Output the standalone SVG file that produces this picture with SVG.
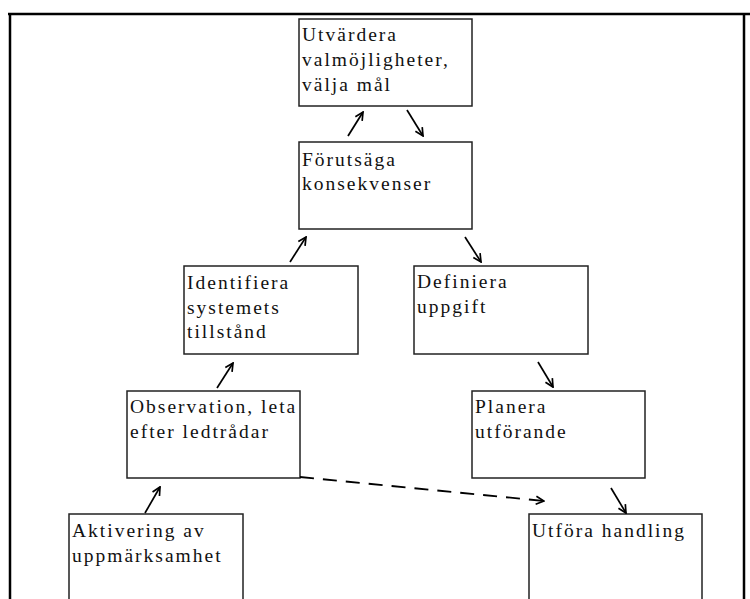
<svg xmlns="http://www.w3.org/2000/svg" width="750" height="599" viewBox="0 0 750 599">
<defs>
<style>
.box{fill:#fff;stroke:#222;stroke-width:1.5}
.t{font-family:"Liberation Serif","Times New Roman",serif;font-size:19.5px;letter-spacing:2px;fill:#111}
.c{stroke:#000;stroke-width:1.7;fill:none}
.d{stroke:#000;stroke-width:1.8;fill:none;stroke-dasharray:14,9}
</style>
<marker id="ah" viewBox="0 0 10 10" refX="9" refY="5" markerWidth="10" markerHeight="10" markerUnits="userSpaceOnUse" orient="auto">
<path d="M1,1 L9,5 L1,9" fill="none" stroke="#000" stroke-width="1.7"/>
</marker>
</defs>
<rect width="750" height="599" fill="#fff"/>
<g id="frame">
<path d="M8,14 H750" stroke="#000" stroke-width="2.5" fill="none"/>
<path d="M10,14 V599" stroke="#000" stroke-width="2.5" fill="none"/>
<path d="M744,14 V599" stroke="#000" stroke-width="2.5" fill="none"/>
</g>
<g id="n-utvardera">
<rect class="box" x="299" y="19" width="173" height="87"/>
<text class="t" x="302" y="41">Utvärdera</text>
<text class="t" x="302" y="66">valmöjligheter,</text>
<text class="t" x="302" y="91">välja mål</text>
</g>
<g id="n-forutsaga">
<rect class="box" x="299" y="142" width="173" height="87"/>
<text class="t" x="302" y="166">Förutsäga</text>
<text class="t" x="302" y="190">konsekvenser</text>
</g>
<g id="n-identifiera">
<rect class="box" x="184" y="266" width="174" height="88"/>
<text class="t" x="187" y="289">Identifiera</text>
<text class="t" x="187" y="314">systemets</text>
<text class="t" x="187" y="338">tillstånd</text>
</g>
<g id="n-definiera">
<rect class="box" x="414" y="266" width="174" height="88"/>
<text class="t" x="417" y="288">Definiera</text>
<text class="t" x="417" y="313">uppgift</text>
</g>
<g id="n-observation">
<rect class="box" x="127" y="391" width="173" height="87"/>
<text class="t" x="130" y="413">Observation, leta</text>
<text class="t" x="130" y="438">efter ledtrådar</text>
</g>
<g id="n-planera">
<rect class="box" x="472" y="391" width="173" height="87"/>
<text class="t" x="475" y="413">Planera</text>
<text class="t" x="475" y="438">utförande</text>
</g>
<g id="n-aktivering">
<rect class="box" x="69" y="514" width="174" height="100"/>
<text class="t" x="72" y="537">Aktivering av</text>
<text class="t" x="72" y="562">uppmärksamhet</text>
</g>
<g id="n-utfora">
<rect class="box" x="529" y="514" width="173" height="100"/>
<text class="t" x="532" y="537">Utföra handling</text>
</g>
<g id="connectors">
<line class="c" x1="348" y1="136" x2="363" y2="112" marker-end="url(#ah)"/>
<line class="c" x1="407" y1="110" x2="423" y2="136" marker-end="url(#ah)"/>
<line class="c" x1="290" y1="262" x2="306" y2="237" marker-end="url(#ah)"/>
<line class="c" x1="465" y1="237" x2="481" y2="262" marker-end="url(#ah)"/>
<line class="c" x1="217" y1="388" x2="233" y2="363" marker-end="url(#ah)"/>
<line class="c" x1="538" y1="362" x2="553" y2="387" marker-end="url(#ah)"/>
<line class="c" x1="145" y1="513" x2="160" y2="487" marker-end="url(#ah)"/>
<line class="c" x1="611" y1="488" x2="626" y2="513" marker-end="url(#ah)"/>
<line class="d" x1="300" y1="477" x2="544" y2="501" marker-end="url(#ah)"/>
</g>
</svg>
